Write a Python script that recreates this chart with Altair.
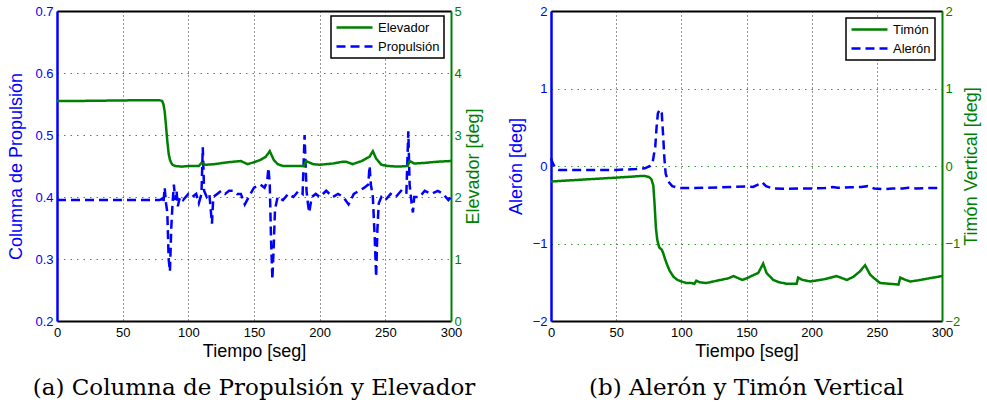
import altair as alt
import pandas as pd

BLUE = "#0000ff"
GREEN = "#008000"
SANS = "Liberation Sans"
SERIF = "DejaVu Serif"

# ---- (a) thrust column and elevator ----
elev_t = [0, 20, 40, 60, 78, 80, 81, 82, 83, 84, 85, 86, 87, 88, 90, 95, 100, 108, 110, 113,
          120, 130, 140, 145, 150, 155, 159, 162, 165, 168, 172, 180, 188, 189.5, 195, 200,
          210, 218, 220, 225, 232, 238, 240.5, 243, 247, 252, 260, 267, 268.5, 272, 280, 290, 300]
elev_deg = [3.55, 3.55, 3.555, 3.56, 3.56, 3.55, 3.50, 3.38, 3.15, 2.90, 2.70, 2.60, 2.55, 2.52, 2.50, 2.49, 2.50, 2.50, 2.55, 2.52,
            2.53, 2.56, 2.58, 2.53, 2.56, 2.60, 2.65, 2.74, 2.60, 2.53, 2.50, 2.50, 2.50, 2.58, 2.53, 2.52,
            2.54, 2.57, 2.57, 2.53, 2.58, 2.65, 2.74, 2.62, 2.52, 2.50, 2.49, 2.50, 2.58, 2.54, 2.55, 2.57, 2.58]

prop_t = [0, 40, 78, 80, 81, 82, 83, 84, 85, 86, 87, 88, 89, 90, 91, 92, 93, 94, 96, 98,
          100, 103, 106, 108, 110, 111, 112, 114, 116, 118, 119, 122, 125, 128, 131, 134, 137, 140, 143, 146,
          150, 155, 158, 160, 161, 162, 163, 164, 165, 166, 168, 172, 176, 180, 184, 187, 188.5, 190, 191, 192,
          194, 197, 200, 205, 210, 214, 218, 222, 226, 230, 234, 237, 238, 239, 240.5, 242, 243, 244, 245, 247,
          250, 254, 258, 262, 266, 267.5, 268.5, 270, 271, 272, 276, 280, 285, 290, 294, 298, 300]
prop_val = [0.395, 0.395, 0.395, 0.397, 0.390, 0.415, 0.390, 0.375, 0.300, 0.280, 0.350, 0.390, 0.420, 0.395, 0.410, 0.385, 0.395, 0.400, 0.395, 0.400,
            0.405, 0.400, 0.405, 0.390, 0.405, 0.480, 0.410, 0.400, 0.405, 0.357, 0.400, 0.405, 0.410, 0.405, 0.410, 0.410, 0.405, 0.405, 0.388, 0.400,
            0.415, 0.420, 0.415, 0.425, 0.447, 0.420, 0.330, 0.267, 0.320, 0.380, 0.400, 0.395, 0.405, 0.400, 0.410, 0.405, 0.500, 0.410, 0.390, 0.375,
            0.400, 0.405, 0.400, 0.410, 0.400, 0.405, 0.400, 0.388, 0.405, 0.410, 0.415, 0.420, 0.450, 0.420, 0.400, 0.330, 0.271, 0.350, 0.390, 0.400,
            0.395, 0.405, 0.400, 0.410, 0.405, 0.506, 0.420, 0.390, 0.375, 0.400, 0.400, 0.410, 0.405, 0.410, 0.405, 0.395, 0.400]

# ---- (b) aileron and rudder ----
aleron_t = [0, 1, 3, 6, 10, 30, 50, 65, 72, 76, 78, 80, 81, 82, 83.5, 85, 86, 87, 88, 90,
            93, 97, 100, 110, 120, 130, 140, 150, 155, 160, 162, 165, 170, 180, 190, 200, 210, 216, 220, 230,
            238, 243, 248, 255, 262, 270, 274, 280, 290, 300]
aleron_deg = [0.10, 0.05, -0.02, -0.05, -0.05, -0.05, -0.05, -0.04, -0.03, 0.00, 0.05, 0.25, 0.50, 0.68, 0.73, 0.68, 0.40, 0.10, -0.10, -0.20,
              -0.26, -0.28, -0.285, -0.285, -0.28, -0.275, -0.27, -0.265, -0.27, -0.23, -0.21, -0.26, -0.29, -0.295, -0.29, -0.29, -0.285, -0.27, -0.28, -0.275,
              -0.27, -0.26, -0.29, -0.30, -0.29, -0.29, -0.28, -0.29, -0.285, -0.285]

timon_t = [0, 20, 40, 60, 68, 72, 75, 77, 78.5, 79.5, 80.5, 81.5, 83, 85, 86, 87.5, 89, 91, 94, 97,
           100, 104, 108, 110, 111.5, 114, 119, 122, 130, 136, 140, 144, 147, 150, 155, 159, 162.8, 165.4, 170.5, 175,
           181, 188.5, 189.6, 193, 199, 210, 219, 227, 232, 237, 241, 244.8, 248, 252.5, 260, 266.6, 268, 272, 275.6, 280,
           290, 300]
timon_deg = [-0.20, -0.18, -0.16, -0.14, -0.13, -0.13, -0.14, -0.17, -0.25, -0.50, -0.80, -0.95, -1.05, -1.08, -1.12, -1.20, -1.27, -1.35, -1.43, -1.47,
             -1.49, -1.51, -1.51, -1.52, -1.48, -1.50, -1.51, -1.50, -1.47, -1.45, -1.42, -1.45, -1.47, -1.45, -1.41, -1.38, -1.26, -1.38, -1.47, -1.50,
             -1.52, -1.52, -1.44, -1.47, -1.49, -1.46, -1.42, -1.47, -1.43, -1.36, -1.28, -1.40, -1.45, -1.51, -1.52, -1.53, -1.44, -1.47, -1.49, -1.48,
             -1.45, -1.42]

x_ticks = [0, 50, 100, 150, 200, 250, 300]
prop_ticks = [0.2, 0.3, 0.4, 0.5, 0.6, 0.7]
elev_ticks = [0, 1, 2, 3, 4, 5]
b_ticks = [-2, -1, 0, 1, 2]

W_A, W_B, H = 394, 391, 310

# legend sample line: a horizontal stroke drawn to the right of the symbol anchor
LEGEND_LINE = "M-1,0H5"


def series(t, v, name):
    return pd.DataFrame({"t": t, "v": v, "serie": name})


def x_bottom():
    return alt.X(
        "t:Q",
        scale=alt.Scale(domain=[0, 300], nice=False, zero=False),
        axis=alt.Axis(values=x_ticks, title="Tiempo [seg]", labelFlush=False, ticks=False,
                      labelPadding=5, titlePadding=3, domainColor="black", domainWidth=2,
                      grid=True, gridColor="black", gridDash=[1, 3], gridOpacity=0.8, gridWidth=1,
                      labelColor="black", titleColor="black", labelFontSize=13, titleFontSize=18,
                      titleFontWeight="normal", labelFont=SANS, titleFont=SANS),
    )


def x_top():
    return alt.X(
        "t:Q",
        scale=alt.Scale(domain=[0, 300], nice=False, zero=False),
        axis=alt.Axis(orient="top", labels=False, ticks=False, grid=False, title=None,
                      domainColor="black", domainWidth=2),
    )


def y_left(domain, values, fmt, title, tpad):
    return alt.Y(
        "v:Q",
        scale=alt.Scale(domain=domain, nice=False, zero=False),
        axis=alt.Axis(orient="left", values=values, format=fmt, title=title, ticks=False,
                      labelPadding=4, titlePadding=tpad, domainColor=BLUE, domainWidth=2.5,
                      grid=True, gridColor=GREEN, gridDash=[1.5, 5], gridOpacity=0.8, gridWidth=1,
                      labelColor=BLUE, titleColor=BLUE, labelFontSize=13, titleFontSize=18,
                      titleFontWeight="normal", labelFont=SANS, titleFont=SANS, labelFlush=False),
    )


def y_right(domain, values, fmt, title, tpad):
    return alt.Y(
        "v:Q",
        scale=alt.Scale(domain=domain, nice=False, zero=False),
        axis=alt.Axis(orient="right", values=values, format=fmt, title=title, ticks=False,
                      labelPadding=3, titlePadding=tpad, domainColor=GREEN, domainWidth=2,
                      grid=False, labelColor=GREEN, titleColor=GREEN, labelFontSize=13,
                      titleFontSize=18, titleFontWeight="normal", labelFont=SANS, titleFont=SANS,
                      titleAngle=270, titleBaseline="top", labelFlush=False),
    )


def legend(x, y):
    return alt.Legend(title=None, orient="none", legendX=x, legendY=y, symbolType=LEGEND_LINE,
                      symbolSize=144, symbolStrokeWidth=2.5, labelFont=SANS, labelFontSize=13,
                      labelColor="black", strokeColor="black", fillColor="white", padding=4,
                      rowPadding=4, labelOffset=28, direction="vertical")


def enc_series(names, leg):
    color = alt.Color("serie:N", scale=alt.Scale(domain=names, range=[GREEN, BLUE]), legend=leg)
    dash = alt.StrokeDash("serie:N", scale=alt.Scale(domain=names, range=[[1, 0], [9, 5]]), legend=leg)
    return color, dash


def caption(text):
    return alt.Title(text, orient="bottom", anchor="middle", font=SERIF, fontSize=23,
                     fontWeight="normal", color="black", offset=17)


# Panel (a)
names_a = ["Elevador", "Propulsión"]
col_a, dash_a = enc_series(names_a, legend(274, 5))
prop_line = alt.Chart(series(prop_t, prop_val, "Propulsión")).mark_line(strokeWidth=2.5).encode(
    x=x_bottom(),
    y=y_left([0.2, 0.7], prop_ticks, ".1f", "Columna de Propulsión", 9),
    color=col_a, strokeDash=dash_a,
)
elev_line = alt.Chart(series(elev_t, elev_deg, "Elevador")).mark_line(strokeWidth=2.5).encode(
    x=x_top(),
    y=y_right([0, 5], elev_ticks, "d", "Elevador [deg]", 3),
    color=col_a, strokeDash=dash_a,
)
panel_a = alt.layer(prop_line, elev_line).resolve_scale(y="independent").resolve_axis(
    x="independent").properties(width=W_A, height=H, title=caption("(a) Columna de Propulsión y Elevador"))

# Panel (b)
names_b = ["Timón", "Alerón"]
col_b, dash_b = enc_series(names_b, legend(295, 7))
aleron_line = alt.Chart(series(aleron_t, aleron_deg, "Alerón")).mark_line(strokeWidth=2.5).encode(
    x=x_bottom(),
    y=y_left([-2, 2], b_ticks, "d", "Alerón [deg]", 7),
    color=col_b, strokeDash=dash_b,
)
timon_line = alt.Chart(series(timon_t, timon_deg, "Timón")).mark_line(strokeWidth=2.5).encode(
    x=x_top(),
    y=y_right([-2, 2], b_ticks, "d", "Timón Vertical [deg]", 3),
    color=col_b, strokeDash=dash_b,
)
panel_b = alt.layer(aleron_line, timon_line).resolve_scale(y="independent").resolve_axis(
    x="independent").properties(width=W_B, height=H, title=caption("(b) Alerón y Timón Vertical"))

chart = (
    alt.hconcat(panel_a, panel_b, spacing=100, bounds="flush")
    .resolve_scale(color="independent", strokeDash="independent")
    .properties(padding={"left": 7, "top": 5, "right": 2, "bottom": 2}, background="white")
    .configure_view(stroke=None)
    .configure_legend(strokeWidth=1.5)
)

chart.save("out.html", embed_options={"renderer": "svg", "actions": False})
